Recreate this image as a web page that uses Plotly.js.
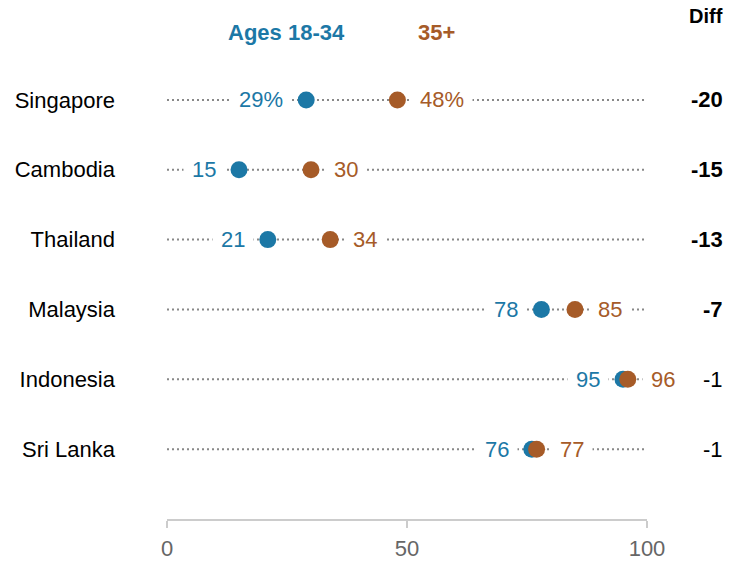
<!DOCTYPE html>
<html>
<head>
<meta charset="utf-8">
<script src="https://cdn.plot.ly/plotly-3.0.1.min.js"></script>
<style>
  body { margin: 0; background: #fff; }
  #chart { width: 732px; height: 561px; }
</style>
</head>
<body>
<div id="chart"></div>
<script>
// values per country (share, %)
var countries = ['Singapore', 'Cambodia', 'Thailand', 'Malaysia', 'Indonesia', 'Sri Lanka'];
var young = [29, 15, 21, 78, 95, 76];   // Ages 18-34
var older = [48, 30, 34, 85, 96, 77];   // 35+
var diffs = [-20, -15, -13, -7, -1, -1];
var significant = [true, true, true, true, false, false];

var blue = '#1c78a6';
var brown = '#a65b28';
var font = 'Liberation Sans, Arial, sans-serif';

// dotted guide line for every row, 0 to 100
var lineX = [];
var lineY = [];
for (let i = 0; i < countries.length; i++) {
  lineX.push(0, 100, null);
  lineY.push(countries[i], countries[i], null);
}

var data = [
  {
    x: lineX, y: lineY, type: 'scatter', mode: 'lines',
    line: {color: '#888888', width: 2, dash: '2px,3px'},
    hoverinfo: 'skip', showlegend: false
  },
  {
    x: young, y: countries, type: 'scatter', mode: 'markers', name: 'Ages 18-34',
    marker: {color: blue, size: 17}, cliponaxis: false, showlegend: false
  },
  {
    x: older, y: countries, type: 'scatter', mode: 'markers', name: '35+',
    marker: {color: brown, size: 17}, cliponaxis: false, showlegend: false
  }
];

// right column sits outside the plot area, so use paper coords
var diffX = 1.1625;

var annotations = [];
for (let i = 0; i < countries.length; i++) {
  var pct = i === 0 ? '%' : '';
  annotations.push({
    x: young[i], y: countries[i], xref: 'x', yref: 'y',
    text: young[i] + pct, showarrow: false,
    xanchor: 'right', yanchor: 'middle', xshift: -14,
    bgcolor: '#ffffff', borderpad: 8,
    font: {family: font, size: 22, color: blue}
  });
  annotations.push({
    x: older[i], y: countries[i], xref: 'x', yref: 'y',
    text: older[i] + pct, showarrow: false,
    xanchor: 'left', yanchor: 'middle', xshift: 14,
    bgcolor: '#ffffff', borderpad: 8,
    font: {family: font, size: 22, color: brown}
  });
  annotations.push({
    x: diffX, y: countries[i], xref: 'paper', yref: 'y',
    text: significant[i] ? '<b>' + diffs[i] + '</b>' : String(diffs[i]),
    showarrow: false, xanchor: 'right', yanchor: 'middle',
    font: {family: font, size: 22, color: '#000'}
  });
}

// column headers
annotations.push({
  x: 24.8, y: 1.071, xref: 'x', yref: 'paper', text: '<b>Ages 18-34</b>',
  showarrow: false, xanchor: 'center', yanchor: 'middle',
  font: {family: font, size: 22, color: blue}
});
annotations.push({
  x: 56.1, y: 1.071, xref: 'x', yref: 'paper', text: '<b>35+</b>',
  showarrow: false, xanchor: 'center', yanchor: 'middle',
  font: {family: font, size: 22, color: brown}
});
annotations.push({
  x: diffX, y: 1.109, xref: 'paper', yref: 'paper', text: '<b>Diff</b>',
  showarrow: false, xanchor: 'right', yanchor: 'middle',
  font: {family: font, size: 20, color: '#000'}
});

var layout = {
  width: 732,
  height: 561,
  margin: {l: 167, r: 85, t: 65.3, b: 42},
  paper_bgcolor: '#fff',
  plot_bgcolor: '#fff',
  showlegend: false,
  xaxis: {
    range: [0, 100],
    tickvals: [0, 50, 100],
    showgrid: false, zeroline: false,
    showline: true, linecolor: '#cccccc', linewidth: 1.5,
    ticks: 'outside', ticklen: 7, tickwidth: 1.5, tickcolor: '#cccccc',
    ticklabelstandoff: 2,
    tickfont: {family: font, size: 22, color: '#666666'}
  },
  yaxis: {
    type: 'category',
    categoryorder: 'array',
    categoryarray: countries,
    range: [6, -0.5],
    showgrid: false, zeroline: false, showline: false,
    ticks: '',
    ticklabelstandoff: 51,
    tickfont: {family: font, size: 22, color: '#000'}
  },
  annotations: annotations
};

Plotly.newPlot('chart', data, layout, {displayModeBar: false, staticPlot: true});
</script>
</body>
</html>
